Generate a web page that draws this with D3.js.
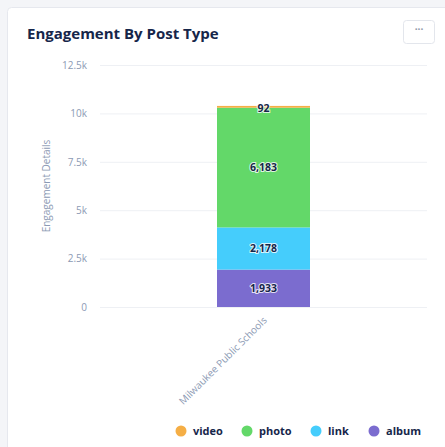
<!DOCTYPE html>
<html><head><meta charset="utf-8">
<script src="https://cdn.jsdelivr.net/npm/d3@7"></script>
<style>
html,body{margin:0;padding:0;background:#f4f5f8;}
svg{display:block;}
</style></head>
<body><svg id="c" width="445" height="447"></svg>
<script>
const categories = ["Milwaukee Public Schools"];
const seriesNames = ["album", "link", "photo", "video"];
const album = [1933];
const link = [2178];
const photo = [6183];
const video = [92];
const yTicks = [0, 2500, 5000, 7500, 10000, 12500];
const yTickLabels = ["0", "2.5k", "5k", "7.5k", "10k", "12.5k"];
const legendOrder = ["video", "photo", "link", "album"];
const colors = {video:"#f5ae45", photo:"#63d869", link:"#45cdfc", album:"#7b6ccf"};

const svg = d3.select("#c");
const font = "'Open Sans', 'Noto Sans', sans-serif";

// card
svg.append("rect").attr("x",7.5).attr("y",7.5).attr("width",460).attr("height",460)
  .attr("rx",4).attr("fill","#fff").attr("stroke","#e6e8ee");
svg.append("text").attr("x",27).attr("y",39).text("Engagement By Post Type")
  .attr("font-family",font).attr("font-weight",700).attr("font-size",15)
  .attr("fill","#16264a");
// menu button
svg.append("rect").attr("x",403.5).attr("y",20.5).attr("width",31).attr("height",23)
  .attr("rx",3).attr("fill","#fff").attr("stroke","#e3e6ec");
svg.append("text").attr("x",419).attr("y",33).attr("text-anchor","middle")
  .text("···").attr("font-family",font).attr("font-size",10).attr("font-weight",700).attr("fill","#8d96a6");

const y = d3.scaleLinear().domain([0,12500]).range([307,65]);
const x = d3.scaleBand().domain(categories).range([100,427]).paddingInner(0.3).paddingOuter(0.355);

// grid
const yAxis = d3.axisLeft(y).tickValues(yTicks).tickFormat((d,i)=>yTickLabels[i]).tickSize(0).tickPadding(0);
const gy = svg.append("g").attr("transform","translate(87,0)").call(yAxis);
gy.select(".domain").remove();
gy.selectAll("text").attr("font-family",font).attr("font-size",10).attr("fill","#8c9ab4").attr("dy","0.32em");
svg.append("g").selectAll("line").data(yTicks).join("line")
  .attr("x1",100).attr("x2",427).attr("y1",d=>y(d)+0.5).attr("y2",d=>y(d)+0.5)
  .attr("stroke","#eef0f4").attr("stroke-width",1);

svg.append("text").attr("transform","translate(50,186) rotate(-90)").attr("text-anchor","middle")
  .text("Engagement Details").attr("font-family",font).attr("font-size",10).attr("fill","#8c9ab4");

// stacked data
const table = categories.map((c,i)=>({cat:c, album:album[i], link:link[i], photo:photo[i], video:video[i]}));
const stack = d3.stack().keys(seriesNames)(table);
const bw = 93;
const g = svg.append("g");
stack.forEach(s=>{
  g.selectAll(null).data(s).join("rect")
   .attr("x",d=>x(d.data.cat)+x.bandwidth()/2-bw/2).attr("width",bw)
   .attr("y",d=>y(d[1])).attr("height",d=>y(d[0])-y(d[1]))
   .attr("fill",colors[s.key]);
});
const fmt = d3.format(",");
stack.forEach(s=>{
  s.forEach(d=>{
    const v = d[1]-d[0];
    const ty = s.key==="video" ? y(d[1])+2 : (y(d[0])+y(d[1]))/2;
    g.append("text").attr("x",x(d.data.cat)+x.bandwidth()/2).attr("y",ty)
      .attr("text-anchor","middle").attr("dy","0.35em").text(fmt(v))
      .attr("font-family",font).attr("font-weight",700).attr("font-size",10.5)
      .attr("fill","#16264a").attr("stroke","#fff").attr("stroke-width",2)
      .attr("stroke-opacity",0.8).attr("paint-order","stroke");
  });
});

// x axis label
const xAxis = d3.axisBottom(x).tickSize(0).tickPadding(0);
const gx = svg.append("g").attr("transform","translate(0,307)").call(xAxis);
gx.select(".domain").remove();
gx.selectAll("text").attr("font-family",font).attr("font-size",10).attr("fill","#8c9ab4")
  .attr("text-anchor","end").attr("dy",0).attr("y",0)
  .attr("transform","translate(4,14) rotate(-45)");

// legend
const lx = [181, 247, 316, 374];
const lg = svg.append("g").selectAll("g").data(legendOrder).join("g")
  .attr("transform",(d,i)=>`translate(${lx[i]},431)`);
lg.append("circle").attr("r",5.5).attr("fill",d=>colors[d]);
lg.append("text").attr("x",12).attr("dy","0.35em").text(d=>d)
  .attr("font-family",font).attr("font-weight",700).attr("font-size",11).attr("fill","#16264a");
</script></body></html>
